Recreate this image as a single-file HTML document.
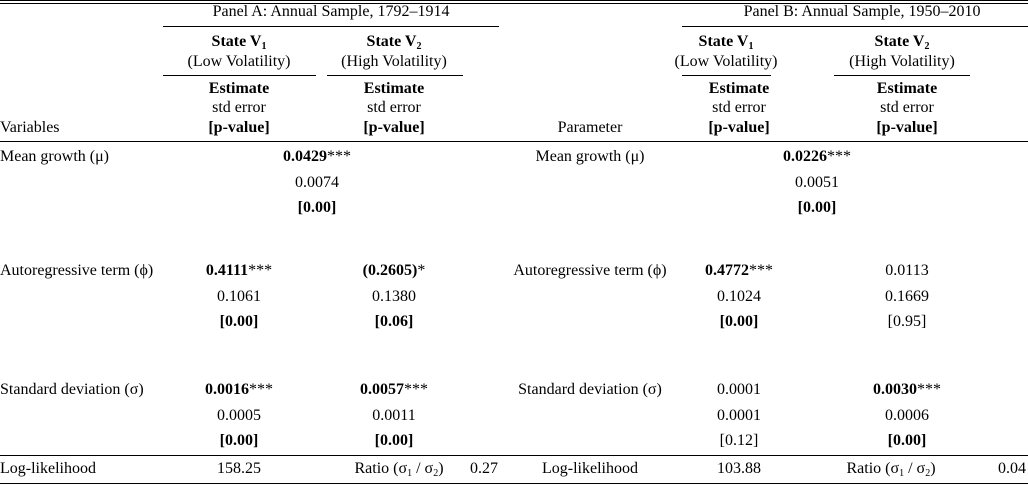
<!DOCTYPE html>
<html><head><meta charset="utf-8"><style>
body{margin:0;width:1028px;height:485px;background:#fff;position:relative;overflow:hidden;font-family:"Liberation Serif",serif;font-size:16px;color:#000}
.t{position:absolute;white-space:nowrap;line-height:18px}
.c{transform:translateX(-50%)}
.b{font-weight:bold}
.r{position:absolute;height:1px;background:#000}
sub{font-size:10px;vertical-align:-3px;line-height:0}
</style></head><body>
<div class="r" style="left:0;width:1028px;top:0"></div>
<div class="r" style="left:0;width:1028px;top:3px"></div>
<div class="t c" style="left:331px;top:3px">Panel A: Annual Sample, 1792–1914</div>
<div class="t c" style="left:862px;top:3px">Panel B: Annual Sample, 1950–2010</div>
<div class="r" style="left:163px;width:336px;top:26px"></div>
<div class="r" style="left:682px;width:346px;top:26px"></div>
<div class="t c b" style="left:239px;top:33px">State V<sub>1</sub></div>
<div class="t c" style="left:239px;top:53px">(Low Volatility)</div>
<div class="t c b" style="left:394px;top:33px">State V<sub>2</sub></div>
<div class="t c" style="left:394px;top:53px">(High Volatility)</div>
<div class="t c b" style="left:726px;top:33px">State V<sub>1</sub></div>
<div class="t c" style="left:726px;top:53px">(Low Volatility)</div>
<div class="t c b" style="left:902px;top:33px">State V<sub>2</sub></div>
<div class="t c" style="left:902px;top:53px">(High Volatility)</div>
<div class="r" style="left:163px;width:153px;top:75px"></div>
<div class="r" style="left:327px;width:136px;top:75px"></div>
<div class="r" style="left:682px;width:89px;top:75px"></div>
<div class="r" style="left:834px;width:136px;top:75px"></div>
<div id="hdr"></div>
<div class="t" style="left:0;top:119px">Variables</div>
<div class="t c" style="left:590px;top:119px">Parameter</div>
<div class="r" style="left:0;width:1028px;top:141px"></div>
<div id="body"></div>
<div class="r" style="left:0;width:1028px;top:455px"></div>
<div class="t" style="left:0;top:460px">Log-likelihood</div>
<div class="t c" style="left:239px;top:460px">158.25</div>
<div class="t c" style="left:399px;top:460px">Ratio (σ<sub>1</sub> / σ<sub>2</sub>)</div>
<div class="t c" style="left:484px;top:460px">0.27</div>
<div class="t c" style="left:590px;top:460px">Log-likelihood</div>
<div class="t c" style="left:739px;top:460px">103.88</div>
<div class="t c" style="left:891px;top:460px">Ratio (σ<sub>1</sub> / σ<sub>2</sub>)</div>
<div class="t c" style="left:1012px;top:460px">0.04</div>
<div class="r" style="left:0;width:1028px;top:483px"></div>
<script>
function add(parent,txt,x,y,cls,center,name){
  const d=document.createElement('div');
  d.className='t'+(center?' c':'')+(cls?' '+cls:'');
  d.style.left=x+'px';d.style.top=y+'px';d.innerHTML=txt;
  
  
  parent.appendChild(d);
}
const H=document.getElementById('hdr');
[239,394,739,907].forEach(x=>{
  add(H,'Estimate',x,80,'b',true,'estimate-header');
  add(H,'std error',x,99,'',true,'std-error-header');
  add(H,'[p-value]',x,119,'b',true,'p-value-header');
});
const B=document.getElementById('body');
const rowsY=[148,262,381];
const labels=['Mean growth (μ)','Autoregressive term (ϕ)','Standard deviation (σ)'];
const cells=[
 [[317,'<b>0.0429</b>***','0.0074','<b>[0.00]</b>'],[817,'<b>0.0226</b>***','0.0051','<b>[0.00]</b>']],
 [[239,'<b>0.4111</b>***','0.1061','<b>[0.00]</b>'],[394,'<b>(0.2605)</b>*','0.1380','<b>[0.06]</b>'],[739,'<b>0.4772</b>***','0.1024','<b>[0.00]</b>'],[907,'0.0113','0.1669','[0.95]']],
 [[239,'<b>0.0016</b>***','0.0005','<b>[0.00]</b>'],[394,'<b>0.0057</b>***','0.0011','<b>[0.00]</b>'],[739,'0.0001','0.0001','[0.12]'],[907,'<b>0.0030</b>***','0.0006','<b>[0.00]</b>']]
];
rowsY.forEach((y,i)=>{
  add(B,labels[i],0,y,'',false,'a-row-label');
  add(B,labels[i],590,y,'',true,'b-row-label');
  cells[i].forEach(c=>{
    add(B,c[1],c[0],y,'',true,'estimate');
    add(B,c[2],c[0],y+26,'',true,'std-error');
    add(B,c[3],c[0],y+51,'',true,'p-value');
  });
});
</script>
</body></html>
